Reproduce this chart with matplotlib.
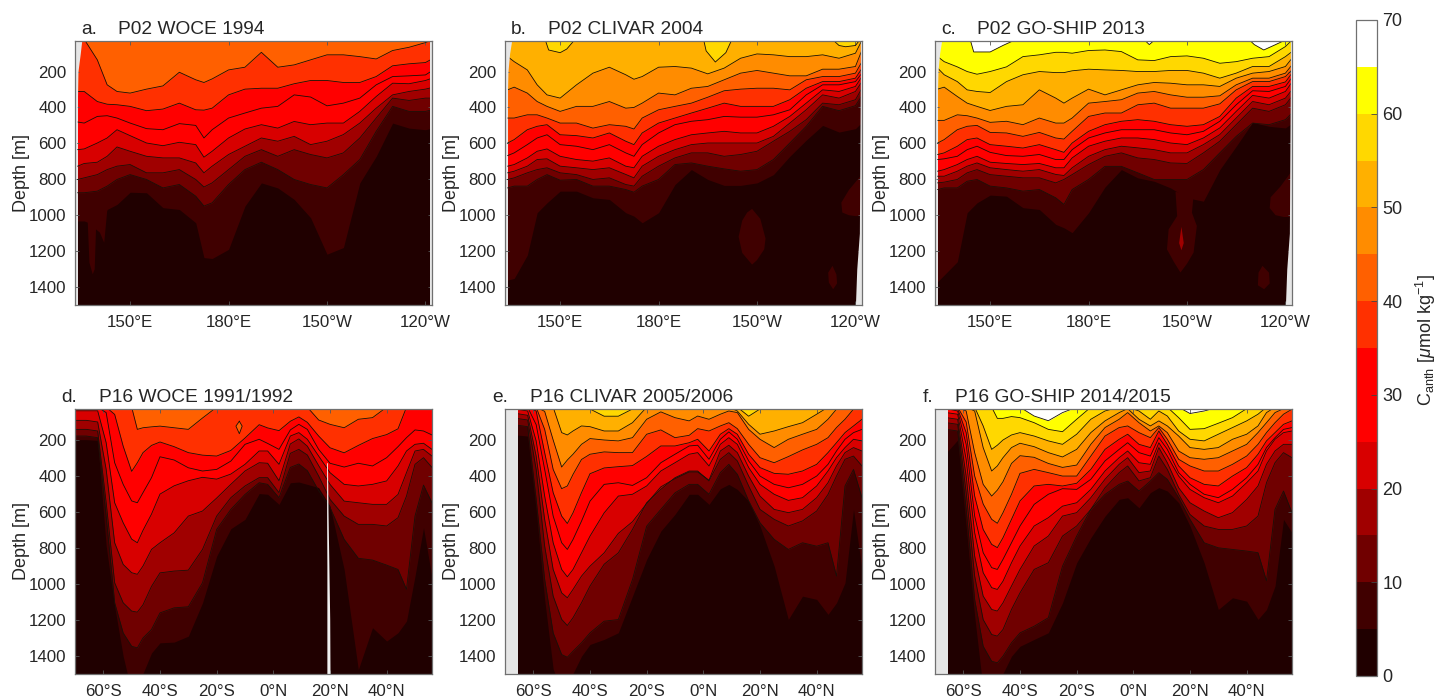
import matplotlib
matplotlib.use('Agg')
import matplotlib.pyplot as plt
import numpy as np
from matplotlib.cm import ScalarMappable
from matplotlib.colors import BoundaryNorm, ListedColormap

plt.rcParams['font.family'] = ['Liberation Sans', 'DejaVu Sans']
plt.rcParams['mathtext.fontset'] = 'custom'
plt.rcParams['mathtext.rm'] = 'Liberation Sans'
plt.rcParams['mathtext.it'] = 'Liberation Sans:italic'

## Colour bands, 0-70 in steps of 5
band_edges = [0, 5, 10, 15, 20, 25, 30, 35, 40, 45, 50, 55, 60, 65, 70]
band_colors = ['#200000', '#400000', '#700000', '#a00000', '#d80000', '#ff0000', '#ff0000',
               '#ff3000', '#ff6000', '#ff8c00', '#ffb000', '#ffd800', '#ffff00', '#ffffff']
cbar_ticks = [0, 10, 20, 30, 40, 50, 60, 70]
depth_ticks = [200, 400, 600, 800, 1000, 1200, 1400]

## Section positions
p02_lon = [134, 136, 140, 143, 146, 150, 155, 160, 165, 170, 172.5, 175, 180, 185, 190, 195, 200, 205, 210,
           215, 220, 225, 230, 235, 240, 242]
p16_lat = [-70, -66, -62, -59, -56, -53, -50, -48, -46, -43, -40, -35, -30, -25, -20, -15, -10, -5, -2, 2,
           6, 9, 12, 16, 20, 25, 30, 35, 40, 44, 47, 50, 53, 56]
p02_ticks = [150, 180, 210, 240]
p02_ticklabels = ['150°E', '180°E', '150°W', '120°W']
p16_ticks = [-60, -40, -20, 0, 20, 40]
p16_ticklabels = ['60°S', '40°S', '20°S', '0°N', '20°N', '40°N']

## Contour depths [m], panel a
a40 = [20,20,135,274,311,320,298,280,204,246,261,241,191,176,93,176,163,135,107,107,117,130,83,65,39,24]
a35 = [311,311,367,382,385,394,418,409,376,413,415,404,330,298,293,293,268,250,250,261,261,228,168,157,150,130]
a30 = [481,487,450,446,459,487,518,524,490,500,570,524,459,431,404,394,330,342,391,376,348,274,228,224,219,196]
a25 = [635,631,598,570,524,557,598,613,594,607,677,644,570,520,496,515,478,496,487,487,422,339,265,268,250,237]
a20 = [727,712,705,672,620,644,672,681,681,709,764,727,662,616,570,588,561,607,588,551,487,404,330,311,298,289]
a15 = [801,792,774,746,727,718,764,764,746,801,843,820,746,672,635,672,635,662,681,653,570,459,348,361,348,348]
a10 = [875,875,866,838,801,774,801,848,829,894,949,931,829,746,705,746,801,829,848,774,690,533,394,422,422,413]
a5 = [1032,1032,1060,968,940,872,875,958,968,1042,1236,1241,1190,949,820,848,912,1014,1217,1180,820,672,487,515,524,515]

## panel b
b50 = [117,145,191,274,330,348,274,209,176,218,243,228,176,172,181,213,181,126,102,107,117,117,107,126,98,25]
b45 = [302,287,320,367,394,422,394,394,367,404,400,376,320,330,293,283,246,209,194,209,224,224,187,187,172,80]
b40 = [459,459,441,441,459,487,487,515,496,505,520,459,413,394,376,343,307,298,293,293,302,246,228,228,209,145]
b35 = [598,579,524,505,496,552,557,570,542,588,607,542,487,459,431,404,376,394,394,394,357,293,256,256,237,182]
b30 = [668,653,607,570,552,607,616,635,607,653,672,607,542,496,477,468,450,454,454,441,413,330,274,274,256,209]
b25 = [727,718,681,644,631,672,690,699,681,727,736,672,616,579,552,542,533,542,542,505,450,376,302,311,283,228]
b20 = [764,755,727,690,686,727,736,746,736,773,792,727,672,635,607,598,598,598,598,561,487,413,330,348,311,256]
b15 = [801,792,764,746,736,764,774,801,792,829,838,783,727,681,653,653,672,662,644,588,533,468,376,385,357,293]
b10 = [848,838,838,801,774,805,801,838,838,857,872,838,801,718,709,727,742,755,746,690,598,505,394,418,390,334]
b5 = [1361,1352,1222,986,931,866,866,903,912,986,1005,1042,986,829,746,801,834,834,820,774,672,582,500,537,518,482]

## panel c
c60 = [117,145,174,200,215,200,174,117,107,93,93,98,83,80,89,135,139,117,113,126,154,145,126,117,61,25]
c55 = [181,218,256,302,311,317,256,218,200,206,206,196,187,191,194,200,200,194,194,209,237,209,172,172,117,89]
c50 = [298,287,339,376,394,417,394,385,302,348,376,348,298,330,302,274,261,265,274,274,283,237,209,200,172,126]
c45 = [472,472,441,446,459,483,477,496,459,487,487,459,376,367,357,320,311,330,343,343,335,274,237,237,209,163]
c40 = [598,579,524,505,500,539,542,561,539,570,576,533,450,431,431,385,376,404,404,404,380,302,256,256,228,191]
c35 = [662,653,616,579,570,607,616,626,607,635,650,598,533,496,477,468,477,496,505,496,450,348,283,283,258,209]
c30 = [690,686,672,635,616,650,668,672,662,690,690,635,570,542,524,524,524,542,552,533,477,385,307,311,283,233]
c25 = [755,746,718,690,672,705,712,718,712,736,736,681,616,588,570,570,579,598,607,570,514,422,333,348,311,259]
c20 = [783,783,755,727,709,736,746,755,746,773,779,736,672,635,616,625,635,653,653,607,551,459,367,385,348,302]
c15 = [820,816,801,764,746,774,783,792,792,820,801,774,718,672,653,681,690,709,712,653,588,496,404,422,385,339]
c10 = [857,848,848,811,801,838,848,866,857,903,940,857,801,728,728,764,801,801,801,746,653,561,487,496,468,431]
c5 = [1370,1333,1259,986,931,888,894,958,968,1051,1070,1097,986,843,746,792,811,848,903,922,746,616,483,505,514,487]

## panel d
d40 = [20,20,20,20,20,20,20,143,134,129,125,134,143,80,20,20,20,20,20,20,20,20,20,91,115,134,87,78,20,20,20,20,20,20]
d35 = [20,20,20,20,60,236,376,328,272,232,213,239,272,286,291,260,191,117,135,150,98,74,104,180,245,273,232,194,172,140,20,20,20,20]
d30 = [20,20,20,50,328,448,540,550,494,411,295,313,356,374,365,319,226,198,221,254,146,115,143,254,331,352,331,346,300,239,189,146,152,174]
d25 = [40,40,40,217,550,661,752,772,703,613,502,456,428,409,419,391,337,263,263,337,180,161,198,291,383,448,457,448,429,346,263,226,220,254]
d20 = [93,93,102,365,772,892,938,947,901,809,772,717,624,596,524,448,374,328,331,428,224,196,236,344,448,541,550,559,559,504,383,263,254,291]
d15 = [143,143,152,550,994,1105,1151,1157,1116,1014,939,929,924,809,624,522,457,411,411,494,276,254,285,402,531,624,670,670,679,633,513,337,300,354]
d10 = [180,180,189,624,1105,1272,1346,1355,1300,1253,1161,1133,1127,994,698,587,504,439,448,522,354,335,372,483,576,753,858,868,896,920,1030,624,452,550]
d5 = [200,200,204,789,1124,1401,1600,1600,1497,1383,1327,1323,1290,1105,846,694,642,499,503,559,439,435,448,466,568,920,1475,1243,1317,1271,1206,957,688,966]

## panel e
e55 = [20,20,20,20,20,20,20,20,20,20,30,70,70,30,20,20,20,20,20,20,20,20,20,70,30,20,20,20,20,20,20,20,20,20]
e50 = [20,20,20,20,20,20,161,174,152,124,128,152,152,106,20,20,20,20,20,20,20,20,41,115,170,152,128,106,59,20,20,20,20,20]
e45 = [20,20,20,20,43,202,352,313,281,226,194,202,207,189,87,46,78,96,69,87,59,41,50,143,198,244,198,170,143,87,31,20,20,20]
e40 = [20,20,20,20,143,365,472,457,393,310,281,268,272,272,170,146,189,176,139,152,124,106,139,226,300,328,294,257,226,189,133,87,31,20]
e35 = [20,20,20,41,272,494,624,665,606,494,389,357,350,344,293,235,235,217,198,263,170,139,170,281,355,387,392,374,337,272,217,161,124,87]
e30 = [20,20,20,117,365,624,772,809,754,652,541,448,439,454,411,328,281,235,231,309,198,157,198,318,402,448,467,448,402,337,263,198,161,143]
e25 = [31,31,41,207,513,772,920,961,920,828,735,606,513,503,457,374,328,281,272,346,226,189,226,355,448,503,537,522,457,374,300,244,198,207]
e20 = [55,55,65,291,643,920,1050,1077,1031,957,902,828,720,655,554,462,416,379,379,425,263,231,272,402,513,587,605,587,522,439,346,272,244,263]
e15 = [82,82,91,365,791,1068,1197,1231,1188,1105,1012,891,828,698,550,476,411,374,374,429,309,272,318,457,587,642,679,651,596,504,402,309,291,346]
e10 = [119,119,128,532,976,1272,1392,1407,1374,1327,1272,1207,1198,976,680,587,495,448,448,503,383,337,392,540,661,753,809,772,791,772,957,457,365,522]
e5 = [174,174,180,587,1087,1472,1600,1600,1497,1401,1336,1308,1271,1068,864,707,614,503,503,559,472,448,476,541,679,901,1197,1068,1086,1169,1105,994,587,920]

## panel f
f65 = [20,20,20,20,20,20,20,20,20,20,20,69,95,50,20,20,20,20,20,20,20,20,20,20,55,41,20,20,20,20,20,20,20,20]
f60 = [20,20,20,20,20,20,20,82,82,72,78,106,143,156,87,20,20,20,20,20,20,20,20,78,143,139,109,78,28,20,20,20,20,20]
f55 = [20,20,20,20,20,124,254,231,202,174,161,180,207,226,170,87,41,20,20,41,87,41,69,152,198,207,170,133,96,59,20,20,20,20]
f50 = [20,20,20,20,41,244,374,346,300,244,220,239,272,296,254,161,96,50,28,87,124,96,124,180,244,254,244,198,170,124,50,20,20,20]
f45 = [20,20,20,41,272,448,513,480,433,332,289,298,332,354,341,226,133,87,50,106,152,124,161,263,300,309,300,263,226,161,106,50,28,20]
f40 = [20,20,20,102,402,557,642,664,605,503,387,365,383,402,402,291,180,133,124,161,189,133,198,309,346,374,374,337,291,226,161,106,59,31]
f35 = [20,20,28,161,513,698,781,799,744,642,540,457,448,457,442,365,254,198,170,226,244,152,226,346,411,448,457,402,355,281,207,161,115,96]
f30 = [20,28,41,226,624,827,910,920,864,772,679,559,503,472,476,420,318,254,217,272,291,189,254,383,448,503,522,476,411,337,244,189,143,133]
f25 = [41,50,59,309,716,938,1021,1031,985,883,790,679,633,569,550,476,374,300,263,328,337,217,291,402,476,522,550,513,439,374,263,198,161,152]
f20 = [69,78,87,402,846,1068,1142,1151,1105,1012,920,790,735,624,605,522,420,337,300,383,374,244,328,467,550,596,633,605,532,457,337,263,226,226]
f15 = [96,106,115,494,957,1198,1281,1290,1253,1142,1050,920,883,735,679,587,467,383,346,429,411,291,365,503,615,679,698,698,679,624,439,328,272,300]
f10 = [133,143,152,587,1087,1346,1429,1438,1401,1327,1272,1235,1188,902,735,587,504,448,430,485,430,383,420,522,642,772,800,809,818,827,983,587,485,605]
f5 = [280,272,202,679,1179,1586,1600,1600,1497,1401,1346,1308,1271,1105,883,744,624,531,522,578,494,466,485,550,679,883,1142,1077,1096,1197,1142,1012,642,716]

## Closed patches: band index, longitudes, depths, outline
a_patches = [(1, [137.0,137.6,138.6,139.2,139.6,140.8,142.1,143.1,137.0], [1000,1264,1329,1301,1079,1097,1153,960,1000], False)]
b_patches = [(11, [145.4,146.5,150,152,154.6], [20,80,95,75,20], True),
             (11, [193.7,194.5,197.3,200.5,202.4], [20,85,147,95,20], True),
             (11, [232.9,235,237,240,241.5], [20,55,62,55,20], True),
             (1, [208.5,211,212.6,212.2,210,208.5,205.5,204.4,205.5,207,208.5], [965,1020,1130,1190,1250,1275,1210,1120,1030,985,965], False),
             (1, [233,234.2,234.4,233.2,231.9,231.7,233], [1282,1330,1380,1412,1375,1320,1282], False),
             (1, [241.5,238,235.7,236,238,240,241.5], [783,860,930,985,1000,1005,1005], False)]
c_patches = [(13, [143.9,145,150,154,158.1], [20,91,91,54,20], True),
             (13, [196.8,198.5,200.4], [20,50,20], True),
             (13, [228.8,230.5,233.4,237,240.5], [20,50,80,50,20], True),
             (1, [206.5,207,204.4,203.9,206,208,210,212,213,211.5,212,206.5], [870,1005,1079,1190,1260,1319,1270,1208,1060,986,890,870], False),
             (3, [208.3,209,208.3,207.6,208.3], [1065,1155,1195,1155,1065], False),
             (1, [233,235,235.2,233.5,231.6,231.8,233], [1282,1320,1380,1412,1390,1320,1282], False),
             (1, [241.7,238.5,235.5,235.2,237,239.5,241.7], [760,840,900,960,1000,1010,1010], False)]
d_patches = [(8, [-12,-11,-12,-13.2,-12], [98,125,167,125,98], True)]

## No-data edges
edge_depth = [20, 100, 200, 500, 800, 1100, 1300, 1500]
a_left = [135.3, 134.8, 134.1, 133.8, 133.5, 133.4, 133.3, 133.3]
b_left = [135.3, 134.6, 134.1, 133.7, 133.5, 133.4, 133.3, 133.3]
b_right = [241.5, 241.5, 241.5, 241.4, 241.3, 241.2, 240.4, 240.0]
a_right = [241.3, 241.3, 241.3, 241.3, 241.3, 241.3, 241.3, 241.3]
p16_start = [-65.5, -65.5, -65.5, -65.5, -65.5, -65.5, -65.5, -65.5]
slit_depth = [328, 600, 900, 1200, 1500]
slit_left = [18.8, 18.8, 18.9, 18.9, 18.9]
slit_right = [19.1, 19.3, 19.6, 19.9, 20.0]

## Function to draw one section panel
def section(ax, x, levels, depths, patches):
    ax.set_facecolor('#e6e6e6')
    ax.fill_between(x, 0, 1600, color=band_colors[levels[0] // 5], lw=0)
    for lev, d in zip(levels, depths):
        ax.fill_between(x, d, 1600, color=band_colors[lev // 5 - 1], lw=0)
    for lev, d in zip(levels, depths):
        if lev > 5:
            ax.plot(x, d, color='#181008', lw=0.6)
    for idx, px, py, outline in patches:
        ax.fill(px, py, color=band_colors[idx], lw=0)
        if outline:
            ax.plot(px, py, color='#181008', lw=0.6)

fig = plt.figure(figsize=(14.4, 6.98), dpi=100)

def add_axes(left, top, right, bottom):
    return fig.add_axes([left / 1440, 1 - bottom / 698, (right - left) / 1440, (bottom - top) / 698])

ax_a = add_axes(75, 41, 432, 305)
ax_b = add_axes(505, 41, 862, 305)
ax_c = add_axes(935, 41, 1292, 305)
ax_d = add_axes(75, 409, 432, 674)
ax_e = add_axes(505, 409, 862, 674)
ax_f = add_axes(935, 409, 1292, 674)

section(ax_a, p02_lon, [40,35,30,25,20,15,10,5], [a40,a35,a30,a25,a20,a15,a10,a5], a_patches)
section(ax_b, p02_lon, [50,45,40,35,30,25,20,15,10,5], [b50,b45,b40,b35,b30,b25,b20,b15,b10,b5], b_patches)
section(ax_c, p02_lon, [60,55,50,45,40,35,30,25,20,15,10,5], [c60,c55,c50,c45,c40,c35,c30,c25,c20,c15,c10,c5], c_patches)
section(ax_d, p16_lat, [40,35,30,25,20,15,10,5], [d40,d35,d30,d25,d20,d15,d10,d5], d_patches)
section(ax_e, p16_lat, [55,50,45,40,35,30,25,20,15,10,5], [e55,e50,e45,e40,e35,e30,e25,e20,e15,e10,e5], [])
section(ax_f, p16_lat, [65,60,55,50,45,40,35,30,25,20,15,10,5], [f65,f60,f55,f50,f45,f40,f35,f30,f25,f20,f15,f10,f5], [])

## Grey no-data areas, above the contour lines
ax_a.fill_betweenx(edge_depth, 133, a_left, color='#e6e6e6', lw=0, zorder=2.2)
ax_a.fill_betweenx(edge_depth, a_right, 243, color='#e6e6e6', lw=0, zorder=2.2)
ax_b.fill_betweenx(edge_depth, 133, b_left, color='#e6e6e6', lw=0, zorder=2.2)
ax_b.fill_betweenx(edge_depth, b_right, 243, color='#e6e6e6', lw=0, zorder=2.2)
ax_c.fill_betweenx(edge_depth, 133, b_left, color='#e6e6e6', lw=0, zorder=2.2)
ax_c.fill_betweenx(edge_depth, b_right, 243, color='#e6e6e6', lw=0, zorder=2.2)
ax_e.fill_betweenx(edge_depth, -71, p16_start, color='#e6e6e6', lw=0, zorder=2.2)
ax_f.fill_betweenx(edge_depth, -71, p16_start, color='#e6e6e6', lw=0, zorder=2.2)
ax_d.fill_betweenx(slit_depth, slit_left, slit_right, color='#f0f0f0', lw=0, zorder=2.2)

## Axes, ticks
for ax in [ax_a, ax_b, ax_c, ax_d, ax_e, ax_f]:
    ax.set_ylim(1500, 30)
    ax.set_yticks(depth_ticks)
    ax.tick_params(direction='in', length=3, width=0.6, color='#555555', labelsize=12.2,
                   labelcolor='#262626', top=True, right=True, pad=6)
    ax.tick_params(axis='x', pad=7)
    ax.set_ylabel('Depth [m]', fontsize=13, color='#262626')
    ax.yaxis.set_label_coords(-0.125, 0.5)
    for s in ax.spines.values():
        s.set_color('#707070')
        s.set_linewidth(0.9)
for ax in [ax_a, ax_b, ax_c]:
    ax.set_xlim(133.2, 242)
    ax.set_xticks(p02_ticks)
    ax.set_xticklabels(p02_ticklabels)
for ax in [ax_d, ax_e, ax_f]:
    ax.set_xlim(-70, 56)
    ax.set_xticks(p16_ticks)
    ax.set_xticklabels(p16_ticklabels)

## Panel titles
def title(x1, x2, y, letter, name):
    fig.text(x1 / 1440, 1 - y / 698, letter, fontsize=13.8, color='#262626', va='center')
    fig.text(x2 / 1440, 1 - y / 698, name, fontsize=13.8, color='#262626', va='center')

title(81, 118, 29, 'a.', 'P02 WOCE 1994')
title(511, 548, 29, 'b.', 'P02 CLIVAR 2004')
title(941, 977, 29, 'c.', 'P02 GO-SHIP 2013')
title(61, 99, 397, 'd.', 'P16 WOCE 1991/1992')
title(492, 530, 397, 'e.', 'P16 CLIVAR 2005/2006')
title(923, 955, 397, 'f.', 'P16 GO-SHIP 2014/2015')

## Colorbar
cax = add_axes(1356, 20, 1377, 676)
sm = ScalarMappable(norm=BoundaryNorm(band_edges, 14), cmap=ListedColormap(band_colors))
cb = fig.colorbar(sm, cax=cax, ticks=cbar_ticks, spacing='proportional', drawedges=False)
cb.minorticks_off()
cb.ax.tick_params(direction='in', length=4.5, width=0.6, color='#444444', labelsize=13, labelcolor='#262626', pad=4)
cb.outline.set_edgecolor('#707070')
cb.outline.set_linewidth(0.9)
fig.text(1426 / 1440, 1 - 340 / 698, r'C$_{\mathrm{anth}}$ [$\mu$mol kg$^{-1}$]', rotation=90, fontsize=13,
         color='#262626', ha='center', va='center')

fig.savefig('out.png', dpi=100)
